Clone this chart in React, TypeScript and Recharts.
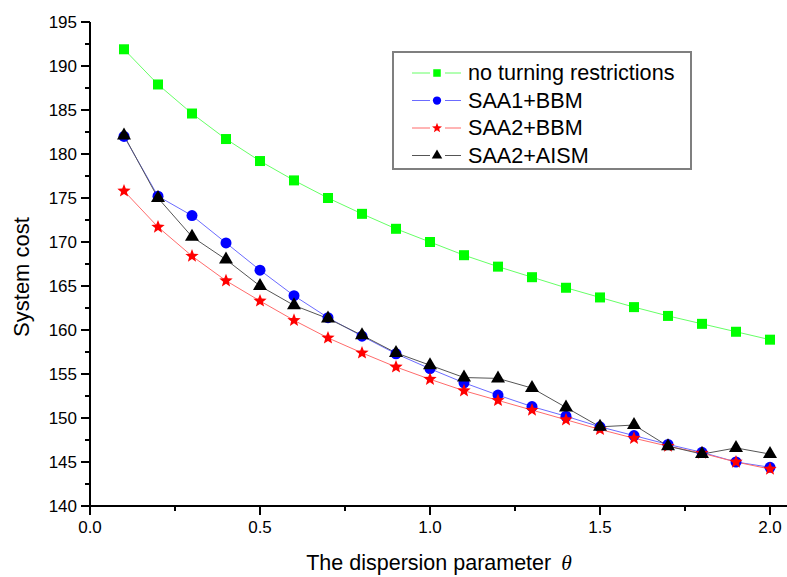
import { Legend, Line, LineChart, XAxis, YAxis } from 'recharts';

const THETA = [0.1, 0.2, 0.3, 0.4, 0.5, 0.6, 0.7, 0.8, 0.9, 1.0, 1.1, 1.2, 1.3, 1.4, 1.5, 1.6, 1.7, 1.8, 1.9, 2.0];
const NO_TURN = [191.9, 187.9, 184.6, 181.7, 179.2, 177.0, 175.0, 173.2, 171.5, 170.0, 168.5, 167.2, 166.0, 164.8, 163.7, 162.6, 161.6, 160.7, 159.8, 158.9];
const SAA1_BBM = [182.0, 175.2, 173.0, 169.9, 166.8, 163.9, 161.4, 159.3, 157.3, 155.6, 154.0, 152.6, 151.3, 150.2, 149.0, 148.0, 147.0, 146.1, 145.0, 144.4];
const SAA2_BBM = [175.8, 171.7, 168.4, 165.6, 163.3, 161.1, 159.1, 157.4, 155.8, 154.4, 153.1, 152.0, 150.9, 149.8, 148.7, 147.7, 146.8, 146.0, 145.0, 144.2];
const SAA2_AISM = [182.1, 175.0, 170.6, 168.0, 165.0, 162.8, 161.3, 159.4, 157.4, 156.0, 154.6, 154.5, 153.4, 151.2, 149.0, 149.2, 146.8, 145.9, 146.6, 145.9];

const X_TICKS = [0, 0.25, 0.5, 0.75, 1.0, 1.25, 1.5, 1.75, 2.0];
const Y_TICKS = [140, 142.5, 145, 147.5, 150, 152.5, 155, 157.5, 160, 162.5, 165, 167.5, 170, 172.5, 175, 177.5, 180, 182.5, 185, 187.5, 190, 192.5, 195];

const data = THETA.map((t, i) => ({
  theta: t,
  noTurn: NO_TURN[i],
  saa1: SAA1_BBM[i],
  saa2: SAA2_BBM[i],
  aism: SAA2_AISM[i]
}));

const FONT = '"Liberation Sans", Arial, sans-serif';

type MarkerKind = 'square' | 'circle' | 'star' | 'triangle';

const SERIES: Array<{ key: string; name: string; line: string; fill: string; marker: MarkerKind }> = [
  { key: 'noTurn', name: 'no turning restrictions', line: '#66ff66', fill: '#00ff00', marker: 'square' },
  { key: 'saa1', name: 'SAA1+BBM', line: '#6b6bff', fill: '#0000ff', marker: 'circle' },
  { key: 'saa2', name: 'SAA2+BBM', line: '#ff6b6b', fill: '#ff0000', marker: 'star' },
  { key: 'aism', name: 'SAA2+AISM', line: '#555555', fill: '#000000', marker: 'triangle' }
];

function starPath(cx: number, cy: number, ro: number, ri: number) {
  let d = '';
  for (let k = 0; k < 10; k++) {
    const r = k % 2 === 0 ? ro : ri;
    const a = -Math.PI / 2 + (k * Math.PI) / 5;
    d += (k === 0 ? 'M' : 'L') + (cx + r * Math.cos(a)).toFixed(2) + ',' + (cy + r * Math.sin(a)).toFixed(2);
  }
  return d + 'Z';
}

function Marker({ kind, cx, cy, fill, scale = 1 }: { kind: MarkerKind; cx: number; cy: number; fill: string; scale?: number }) {
  if (kind === 'square') {
    const s = 10 * scale;
    return <rect x={cx - s / 2} y={cy - s / 2} width={s} height={s} fill={fill} />;
  }
  if (kind === 'circle') {
    return <circle cx={cx} cy={cy} r={5.5 * scale} fill={fill} />;
  }
  if (kind === 'star') {
    return <path d={starPath(cx, cy, 7 * scale, 3 * scale)} fill={fill} />;
  }
  const h = 12 * scale;
  const w = 14 * scale;
  return <path d={`M${cx},${cy - (2 * h) / 3}L${cx + w / 2},${cy + h / 3}L${cx - w / 2},${cy + h / 3}Z`} fill={fill} />;
}

function makeDot(kind: MarkerKind, fill: string) {
  return (props: any) => {
    const { cx, cy, index } = props;
    if (cx == null || cy == null) return <g key={index} />;
    return (
      <g key={index}>
        <Marker kind={kind} cx={cx} cy={cy} fill={fill} />
      </g>
    );
  };
}

function XTick({ x, y, payload }: any) {
  const v = payload.value as number;
  const major = Math.abs(v * 2 - Math.round(v * 2)) < 1e-6;
  return (
    <g>
      <line x1={x} x2={x} y1={y} y2={y + (major ? 9 : 5)} stroke="#000" strokeWidth={2} />
      {major && (
        <text x={x} y={y + 27} textAnchor="middle" fontFamily={FONT} fontSize={17} fill="#000">
          {v.toFixed(1)}
        </text>
      )}
    </g>
  );
}

function YTick({ x, y, payload }: any) {
  const v = payload.value as number;
  const major = v % 5 === 0;
  return (
    <g>
      <line x1={x} x2={x - (major ? 9 : 5)} y1={y} y2={y} stroke="#000" strokeWidth={2} />
      {major && (
        <text x={x - 13} y={y + 6} textAnchor="end" fontFamily={FONT} fontSize={17} fill="#000">
          {v}
        </text>
      )}
    </g>
  );
}

function LegendBox() {
  return (
    <div style={{ width: 300, height: 119, border: '2px solid #7f7f7f', boxSizing: 'border-box', background: '#fff' }}>
      <svg width={296} height={115}>
        {SERIES.map((s, i) => {
          const cy = 20 + i * 27.5;
          return (
            <g key={s.key}>
              <line x1={18} x2={36} y1={cy} y2={cy} stroke={s.line} strokeWidth={1} />
              <line x1={51} x2={67} y1={cy} y2={cy} stroke={s.line} strokeWidth={1} />
              <Marker kind={s.marker} cx={43} cy={cy} fill={s.fill} scale={0.75} />
              <text x={74} y={cy + 7} fontFamily={FONT} fontSize={21.6} fill="#000">
                {s.name}
              </text>
            </g>
          );
        })}
      </svg>
    </div>
  );
}

export default function App() {
  return (
    <div style={{ position: 'fixed', left: 0, top: 0, width: 787, height: 577, background: '#fff' }}>
      <LineChart width={787} height={577} data={data} margin={{ top: 22, right: 0, bottom: 0, left: 0 }}>
        <XAxis
          dataKey="theta"
          type="number"
          domain={[0, 2.05]}
          ticks={X_TICKS}
          allowDataOverflow
          height={71}
          tickSize={0}
          tickMargin={0}
          tick={<XTick />}
          interval={0}
          axisLine={{ stroke: '#000', strokeWidth: 2 }}
          label={{
            value: 'The dispersion parameter',
            position: 'insideBottom',
            offset: 0,
            content: () => (
              <text x={439} y={570} textAnchor="middle" fontFamily={FONT} fontSize={21.5} fill="#000">
                The dispersion parameter
                <tspan dx={10} fontFamily='"Liberation Serif", "Times New Roman", serif' fontStyle="italic">
                  θ
                </tspan>
              </text>
            )
          }}
        />
        <YAxis
          type="number"
          domain={[140, 195]}
          ticks={Y_TICKS}
          allowDataOverflow
          width={90}
          tickSize={0}
          tickMargin={0}
          tick={<YTick />}
          interval={0}
          axisLine={{ stroke: '#000', strokeWidth: 2 }}
          label={{
            value: 'System cost',
            content: () => (
              <text
                x={0}
                y={0}
                transform="translate(29 277) rotate(-90)"
                textAnchor="middle"
                fontFamily={FONT}
                fontSize={22}
                fill="#000"
              >
                System cost
              </text>
            )
          }}
        />
        <Legend
          layout="vertical"
          align="center"
          verticalAlign="middle"
          content={() => <LegendBox />}
          wrapperStyle={{ position: 'absolute', left: 392, top: 51, width: 300, height: 119 }}
        />
        {SERIES.map((s) => (
          <Line
            key={s.key}
            type="linear"
            dataKey={s.key}
            name={s.name}
            stroke={s.line}
            strokeWidth={1}
            dot={makeDot(s.marker, s.fill)}
            activeDot={false}
            isAnimationActive={false}
          />
        ))}
      </LineChart>
    </div>
  );
}
